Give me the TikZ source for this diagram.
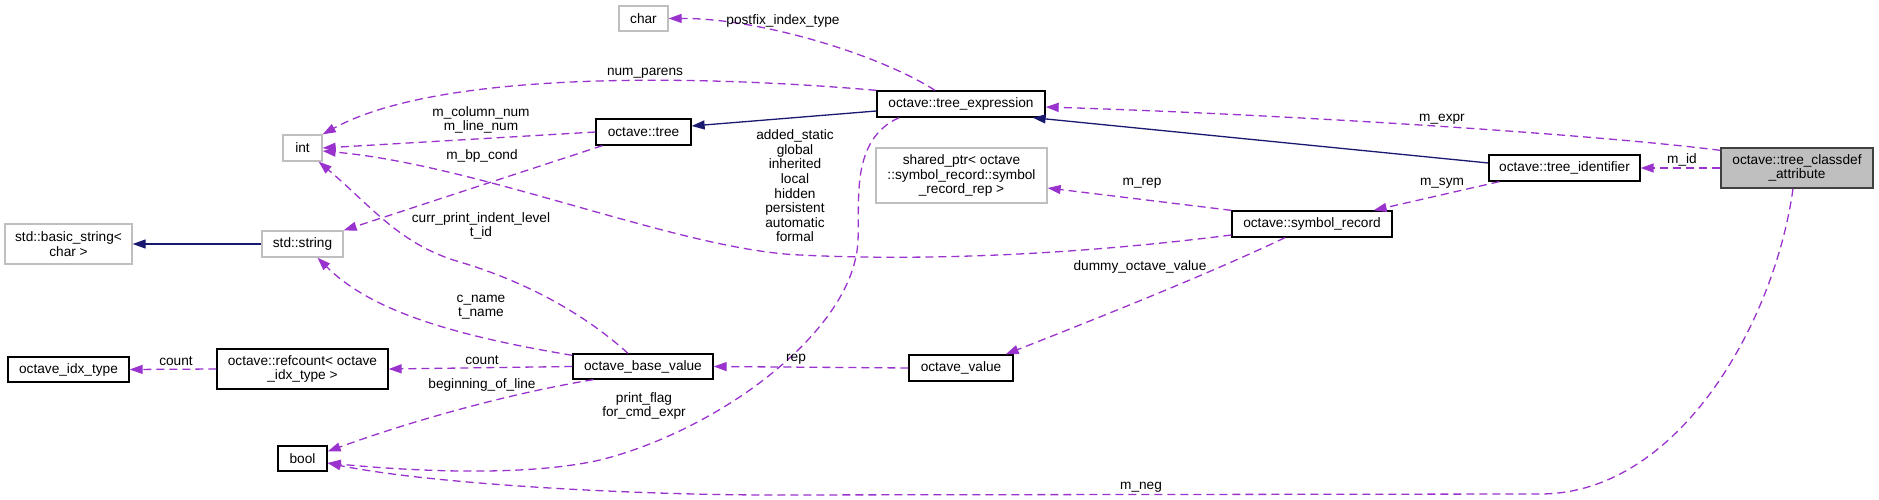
\documentclass[tikz,border=0pt]{standalone}
\usepackage{fontspec}
\setmainfont{Liberation Sans}
\usetikzlibrary{arrows.meta,calc}
\definecolor{depc}{HTML}{9A32CD}
\definecolor{inhc}{HTML}{191970}
\definecolor{undocc}{HTML}{BFBFBF}
\definecolor{mainfillc}{HTML}{BFBFBF}
\definecolor{mainborderc}{HTML}{404040}
\begin{document}
\begin{tikzpicture}[x=1pt,y=-1pt,
 every node/.style={font=\fontsize{13.66}{14.6}\selectfont, inner sep=0pt, align=center},
 cls/.style={draw=black, line width=1.3pt, fill=white, rectangle},
 ucls/.style={draw=undocc, line width=1.3pt, fill=white, rectangle},
 maincls/.style={draw=mainborderc, fill=mainfillc, line width=1.3pt, rectangle},
 depline/.style={draw=depc, line width=1.3pt, dash pattern=on 8pt off 5pt, -{Triangle[length=13pt,width=9pt]}},
 inhline/.style={draw=inhc, line width=1.3pt, -{Triangle[length=13pt,width=9pt]}},
 lbl/.style={text=black}
]
\useasboundingbox (0,0) rectangle (1879,500);
% nodes
\node[ucls, minimum width=127pt, minimum height=40pt] (basicstr) at (68.5,244) {std::basic\_string<\\char >};
\node[ucls, minimum width=81pt, minimum height=26pt] (string) at (302.5,244) {std::string};
\node[ucls, minimum width=39pt, minimum height=26pt] (int) at (302.5,148) {int};
\node[cls, minimum width=121pt, minimum height=25pt] (idx) at (68.5,369.5) {octave\_idx\_type};
\node[cls, minimum width=171pt, minimum height=40pt] (refcount) at (302.5,369) {octave::refcount< octave\\\_idx\_type >};
\node[cls, minimum width=49pt, minimum height=25pt] (bool) at (302.5,458.5) {bool};
\node[ucls, minimum width=49pt, minimum height=25pt] (char) at (643.5,18.5) {char};
\node[cls, minimum width=95pt, minimum height=26pt] (tree) at (643.5,132) {octave::tree};
\node[cls, minimum width=140pt, minimum height=25pt] (obv) at (643,366.5) {octave\_base\_value};
\node[cls, minimum width=168pt, minimum height=26pt] (texpr) at (961,104) {octave::tree\_expression};
\node[ucls, minimum width=171pt, minimum height=55pt] (shared) at (961.5,175.5) {shared\_ptr< octave\\::symbol\_record::symbol\\\_record\_rep >};
\node[cls, minimum width=104pt, minimum height=26pt] (ovalue) at (961,368) {octave\_value};
\node[cls, minimum width=160pt, minimum height=26pt] (symrec) at (1312,224) {octave::symbol\_record};
\node[cls, minimum width=151pt, minimum height=26pt] (tident) at (1564.5,168) {octave::tree\_identifier};
\node[maincls, minimum width=152pt, minimum height=40pt] (tcda) at (1797,168) {octave::tree\_classdef\\\_attribute};
% inheritance
\draw[inhline] (string.west) -- (basicstr.east);
\draw[inhline] ($(texpr.west)+(0,7)$) -- ($(tree.east)+(0,-6)$);
\draw[inhline] ($(tident.west)+(0,-5)$) -- ($(texpr.south east)+(-13,0)$);
% usage
\draw[depline] ($(texpr.north)+(-26,0)$) .. controls (880,55) and (760,18) .. (char.east);
\draw[depline] (texpr.north west) .. controls (700,75) and (440,70) .. (int.north east);
\draw[depline] (tree.west) -- (int.east);
\draw[depline] ($(tree.south west)+(7,0)$) -- (string.north east);
\draw[depline] ($(symrec.west)+(0,11)$) .. controls (1050,258) and (900,260) .. (800,255) .. controls (680,250) and (480,165) .. ($(int.east)+(0,3)$);
\draw[depline] ($(obv.north)+(-15,0)$) .. controls (580,310) and (520,280) .. (460,262) .. controls (400,245) and (370,205) .. ($(int.south east)+(-4,0)$);
\draw[depline] ($(obv.north west)+(0,2)$) .. controls (450,335) and (370,310) .. ($(string.south)+(15,0)$);
\draw[depline] (obv.west) -- (refcount.east);
\draw[depline] (refcount.west) -- (idx.east);
\draw[depline] ($(obv.south west)+(21,0)$) .. controls (500,395) and (400,425) .. ($(bool.east)+(0,-7)$);
\draw[depline] (ovalue.west) -- (obv.east);
\draw[depline] ($(symrec.south)+(-27,0)$) .. controls (1200,278) and (1080,325) .. ($(ovalue.north east)+(-8,0)$);
\draw[depline] ($(texpr.south)+(-62,0)$) .. controls (850,140) and (860,200) .. (858,240) .. controls (855,330) and (720,430) .. (600,460) .. controls (520,478) and (400,470) .. ($(bool.east)+(0,4.5)$);
\draw[depline] ($(tcda.south)+(-4,0)$) .. controls (1775,320) and (1680,494) .. (1540,494) -- (760,495) .. controls (600,494) and (420,482) .. ($(bool.east)+(0,4.5)$);
\draw[depline] ($(tcda.north west)+(0,3)$) .. controls (1600,135) and (1300,115) .. ($(texpr.east)+(0,3)$);
\draw[depline] (tcda.west) -- (tident.east);
\draw[depline] ($(tident.south west)+(11,0)$) -- ($(symrec.north east)+(-19,0)$);
\draw[depline] (symrec.north west) -- ($(shared.east)+(0,12.5)$);
% labels
\node[lbl] (lpostfix) at (783,21) {postfix\_index\_type};
\node[lbl] (lnumparens) at (645,73) {num\_parens};
\node[lbl] (lcolline) at (481,120) {m\_column\_num\\m\_line\_num};
\node[lbl] (lbpcond) at (482,156) {m\_bp\_cond};
\node[lbl] (lstorage) at (795,186) {added\_static\\global\\inherited\\local\\hidden\\persistent\\automatic\\formal};
\node[lbl] (lindent) at (481,226) {curr\_print\_indent\_level\\t\_id};
\node[lbl] (lcname) at (481,307) {c\_name\\t\_name};
\node[lbl] (lcount) at (482,360) {count};
\node[lbl] (lcountidx) at (176,361) {count};
\node[lbl] (lbol) at (482,385) {beginning\_of\_line};
\node[lbl] (lprint) at (644,406) {print\_flag\\for\_cmd\_expr};
\node[lbl] (lrep) at (796,359) {rep};
\node[lbl] (ldummy) at (1140,267) {dummy\_octave\_value};
\node[lbl] (lneg) at (1141,487) {m\_neg};
\node[lbl] (lexpr) at (1442,119) {m\_expr};
\node[lbl] (lsym) at (1442,183) {m\_sym};
\node[lbl] (lmrep) at (1142,183) {m\_rep};
\node[lbl] (lid) at (1682,160) {m\_id};
\end{tikzpicture}
\end{document}
